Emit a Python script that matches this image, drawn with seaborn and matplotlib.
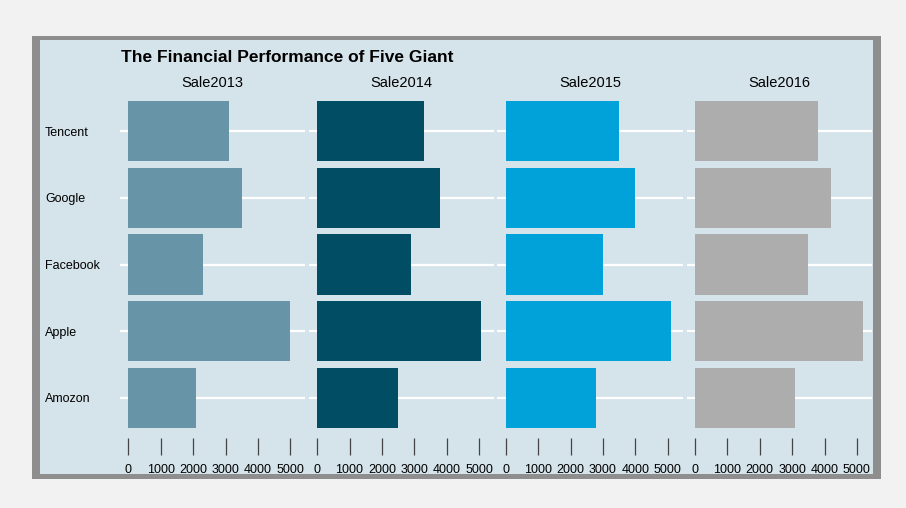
import pandas as pd
import seaborn as sns
import matplotlib.pyplot as plt
from matplotlib.patches import Rectangle

companies = ["Tencent", "Google", "Facebook", "Apple", "Amozon"]
years = ["Sale2013", "Sale2014", "Sale2015", "Sale2016"]
sale2013 = [3100, 3500, 2300, 5000, 2100]
sale2014 = [3300, 3800, 2900, 5050, 2500]
sale2015 = [3500, 4000, 3000, 5100, 2800]
sale2016 = [3800, 4200, 3500, 5200, 3100]
colors = ["#6794a7", "#014d64", "#01a2d9", "#adadad"]

df = pd.DataFrame({"company": companies, "Sale2013": sale2013, "Sale2014": sale2014,
                   "Sale2015": sale2015, "Sale2016": sale2016})
long = df.melt(id_vars="company", var_name="year", value_name="sales")

bg = "#d5e4eb"
sns.set_style("white")
plt.rcParams["font.family"] = ["Liberation Sans", "DejaVu Sans"]
plt.rcParams["text.color"] = "black"

fig = plt.figure(figsize=(9.06, 5.08), dpi=100)
fig.patch.set_facecolor("#f2f2f2")

W, H = 906, 508
# framed panel with grey border
fig.patches.append(Rectangle((32 / W, 1 - 479 / H), 849 / W, 443 / H, transform=fig.transFigure,
                             facecolor="#8e8e8e", edgecolor="none", zorder=-2))
fig.patches.append(Rectangle((40 / W, 1 - 474 / H), 833 / W, 434 / H, transform=fig.transFigure,
                             facecolor=bg, edgecolor="none", zorder=-1))

lefts = [120, 308.7, 497.3, 686.5]
pw = 185.3
top, bottom = 91, 438
xmin, xmax = -260, 5460

for i, (yr, col) in enumerate(zip(years, colors)):
    ax = fig.add_axes([lefts[i] / W, 1 - bottom / H, pw / W, (bottom - top) / H])
    ax.set_facecolor(bg)
    sub = long[long["year"] == yr]
    sns.barplot(data=sub, x="sales", y="company", order=companies, color=col,
                width=0.9, saturation=1, linewidth=0, ax=ax, zorder=3)
    ax.set_xlim(xmin, xmax)
    ax.set_ylim(len(companies) - 0.4, -0.6)
    ax.set_xticks([0, 1000, 2000, 3000, 4000, 5000])
    for y in range(len(companies)):
        ax.axhline(y, color="white", lw=1.6, zorder=1)
    for s in ax.spines.values():
        s.set_visible(False)
    ax.tick_params(axis="x", bottom=True, length=12, width=0.9, color="#444444", pad=7,
                   labelsize=9, labelcolor="black")
    ax.set_xlabel("")
    ax.set_ylabel("")
    ax.set_title(yr, fontsize=10.5, pad=3, color="black")
    if i == 0:
        ax.tick_params(axis="y", length=0, pad=54, labelsize=9, labelcolor="black")
        for lab in ax.get_yticklabels():
            lab.set_ha("left")
    else:
        ax.tick_params(axis="y", length=0, labelleft=False)

fig.text(121 / W, 1 - 57 / H, "The Financial Performance of Five Giant", fontsize=12.5,
         fontweight="bold", ha="left", va="center", color="black")

fig.savefig("out.png", dpi=100, facecolor=fig.get_facecolor())
